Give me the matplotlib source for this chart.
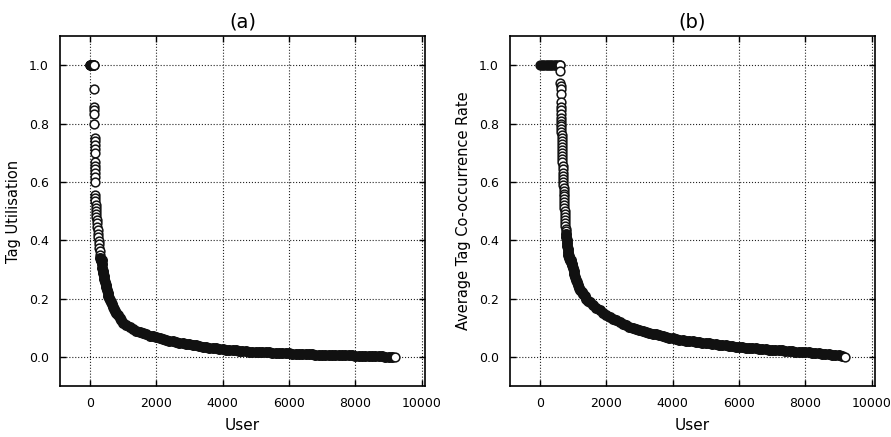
import matplotlib
matplotlib.use("Agg")
import matplotlib.pyplot as plt

# ---------------- Panel (a): Tag Utilisation ----------------
a_head_x = [0, 10, 20, 30, 40, 50, 60, 70, 80, 90, 100, 110, 120, 130,
            132, 134, 136, 138, 140, 142, 144, 146, 148, 150, 152, 154, 156, 158,
            160, 162, 166, 168, 170, 172, 174,
            180, 190, 200, 210, 220, 230, 240, 250, 260, 270, 280, 290, 300, 310,
            320, 330, 340, 350, 360, 370, 380, 390, 400, 420, 440, 460, 480, 500,
            520, 540, 560, 580, 600, 630, 660, 690, 720, 760, 800, 850, 900, 950]
a_head_y = [1.0, 1.0, 1.0, 1.0, 1.0, 1.0, 1.0, 1.0, 1.0, 1.0, 1.0, 1.0, 1.0, 1.0,
            0.917, 0.857, 0.846, 0.833, 0.800, 0.750, 0.740, 0.727, 0.714, 0.700,
            0.667, 0.656, 0.643, 0.630, 0.615, 0.600, 0.556, 0.545, 0.533, 0.520, 0.510,
            0.500, 0.490, 0.480, 0.470, 0.458, 0.446, 0.434, 0.422, 0.410, 0.398,
            0.386, 0.374, 0.362, 0.350, 0.340, 0.333, 0.333, 0.333, 0.333, 0.320,
            0.305, 0.295, 0.287, 0.278, 0.268, 0.258, 0.248, 0.238, 0.228, 0.219,
            0.210, 0.202, 0.195, 0.187, 0.180, 0.172, 0.165, 0.158, 0.150, 0.142,
            0.134, 0.125]
a_tail_x = list(range(1000, 9300, 100))
a_tail_y = [0.116, 0.108, 0.101, 0.095, 0.089, 0.085, 0.081, 0.077, 0.073, 0.070,
            0.067, 0.064, 0.061, 0.059, 0.056, 0.054, 0.052, 0.049, 0.047, 0.045,
            0.043, 0.041, 0.039, 0.037, 0.035, 0.033, 0.032, 0.030, 0.029, 0.027,
            0.026, 0.025, 0.024, 0.023, 0.022, 0.021, 0.020, 0.019, 0.018, 0.018,
            0.017, 0.016, 0.016, 0.015, 0.015, 0.014, 0.014, 0.013, 0.013, 0.012,
            0.012, 0.011, 0.011, 0.010, 0.010, 0.009, 0.009, 0.009, 0.008, 0.008,
            0.008, 0.007, 0.007, 0.007, 0.006, 0.006, 0.006, 0.005, 0.005, 0.005,
            0.004, 0.004, 0.004, 0.003, 0.003, 0.003, 0.002, 0.002, 0.002, 0.001,
            0.001, 0.001, 0.000]

# ---------------- Panel (b): Average Tag Co-occurrence Rate ----------------
b_head_x = [0, 50, 100, 150, 200, 250, 300, 350, 400, 450, 500, 550, 600, 610,
            615, 620, 622, 624, 626, 628, 630, 632, 634, 636, 638, 640, 643, 646,
            649, 652, 655, 658, 661, 664, 667, 670, 673, 676, 680, 684, 688, 692,
            696, 700, 705, 710, 714, 718, 722, 726, 730, 734, 738, 742, 746, 750,
            755, 760, 765, 770, 775, 780, 787, 795, 805, 815, 825, 835, 848, 860,
            875, 890, 905, 920, 935, 950, 965, 980, 1000, 1020, 1040, 1065, 1090,
            1120, 1150, 1185, 1220, 1260, 1300, 1350, 1400, 1450, 1500, 1600, 1700,
            1800, 1900]
b_head_y = [1.0, 1.0, 1.0, 1.0, 1.0, 1.0, 1.0, 1.0, 1.0, 1.0, 1.0, 1.0, 1.0, 1.0,
            0.980, 0.940, 0.930, 0.920, 0.900, 0.875, 0.857, 0.846, 0.833, 0.820,
            0.810, 0.800, 0.790, 0.780, 0.770, 0.760, 0.750, 0.740, 0.730, 0.720,
            0.710, 0.700, 0.690, 0.680, 0.667, 0.655, 0.643, 0.630, 0.620, 0.610,
            0.600, 0.590, 0.580, 0.570, 0.560, 0.550, 0.540, 0.530, 0.520, 0.510,
            0.500, 0.490, 0.480, 0.470, 0.460, 0.450, 0.440, 0.430, 0.420, 0.410,
            0.400, 0.390, 0.380, 0.370, 0.360, 0.350, 0.345, 0.340, 0.333, 0.333,
            0.333, 0.325, 0.320, 0.315, 0.305, 0.295, 0.285, 0.275, 0.265, 0.255,
            0.246, 0.237, 0.229, 0.221, 0.214, 0.207, 0.200, 0.193, 0.187, 0.177,
            0.168, 0.160, 0.151]
b_tail_x = list(range(2000, 9300, 100))
b_tail_y = [0.144, 0.137, 0.131, 0.125, 0.119, 0.113, 0.108, 0.104, 0.100, 0.096,
            0.092, 0.089, 0.086, 0.083, 0.080, 0.077, 0.074, 0.071, 0.068, 0.065,
            0.063, 0.061, 0.059, 0.058, 0.056, 0.055, 0.053, 0.052, 0.050, 0.049,
            0.047, 0.046, 0.044, 0.043, 0.041, 0.040, 0.039, 0.038, 0.036, 0.035,
            0.034, 0.033, 0.032, 0.031, 0.030, 0.029, 0.028, 0.027, 0.026, 0.025,
            0.024, 0.023, 0.022, 0.022, 0.021, 0.020, 0.019, 0.018, 0.018, 0.017,
            0.016, 0.015, 0.014, 0.013, 0.012, 0.011, 0.010, 0.009, 0.008, 0.007,
            0.005, 0.003, 0.000]

# (title, ylabel, x, y, y-value below which the points are packed densely)
panels = [
    ("(a)", "Tag Utilisation", a_head_x + a_tail_x, a_head_y + a_tail_y, 0.345),
    ("(b)", "Average Tag Co-occurrence Rate", b_head_x + b_tail_x, b_head_y + b_tail_y, 0.425),
]
x_ticks = [0, 2000, 4000, 6000, 8000, 10000]
y_ticks = [0.0, 0.2, 0.4, 0.6, 0.8, 1.0]

plt.rcParams['font.family'] = ['DejaVu Sans']
fig = plt.figure(figsize=(8.91, 4.37), dpi=100)
rects = [[0.0673, 0.1167, 0.4097, 0.8009], [0.5724, 0.1167, 0.4097, 0.8009]]

INK = '#111111'
MS = 6.3
MEW = 1.1

def draw(ax, xs, ys, face, ms=MS):
    if len(xs):
        ax.plot(xs, ys, linestyle='none', marker='o', markersize=ms,
                markerfacecolor=face, markeredgecolor=INK, markeredgewidth=MEW)

for rect, (title, ylabel, xs, ys, dense_below) in zip(rects, panels):
    ax = fig.add_axes(rect)
    # points plotted in order; densely packed runs read as a solid dark band
    top_n = sum(1 for v in ys if v >= 0.999)
    draw(ax, xs[:top_n - 1], ys[:top_n - 1], INK)
    mid = [i for i in range(top_n - 1, len(xs)) if ys[i] >= dense_below]
    draw(ax, [xs[i] for i in mid], [ys[i] for i in mid], 'white')
    rest = [i for i in range(top_n - 1, len(xs) - 1) if ys[i] < dense_below]
    draw(ax, [xs[i] for i in rest], [ys[i] for i in rest], INK, ms=6.8)
    draw(ax, xs[-1:], ys[-1:], 'white')

    ax.set_xlim(-900, 10100)
    ax.set_ylim(-0.1, 1.1)
    ax.set_xticks(x_ticks)
    ax.set_yticks(y_ticks)
    ax.set_yticklabels([f"{v:.1f}" for v in y_ticks])
    ax.grid(True, linestyle=':', color='#222222', linewidth=0.8)
    ax.set_axisbelow(True)
    ax.tick_params(direction='in', top=True, right=True, length=4, width=1,
                   labelsize=9, pad=8)
    for s in ax.spines.values():
        s.set_linewidth(1.2)
    ax.set_xlabel("User", fontsize=11, labelpad=6)
    ax.set_ylabel(ylabel, fontsize=10.5, labelpad=6)
    ax.set_title(title, fontsize=14, pad=6)

fig.savefig("out.png", dpi=100)
